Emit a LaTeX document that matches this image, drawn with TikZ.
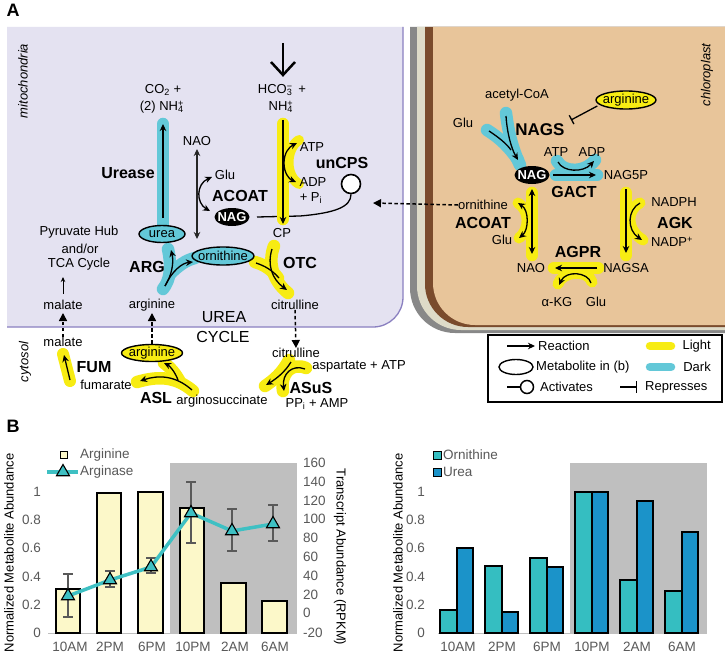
\documentclass[tikz,border=0pt]{standalone}
\usepackage{fontspec}
\setmainfont{Liberation Sans}
\usetikzlibrary{arrows.meta,shapes.geometric}
\definecolor{mitofill}{HTML}{E4E2F1}
\definecolor{mitoline}{HTML}{8A80C0}
\definecolor{chlfill}{HTML}{E8C59A}
\definecolor{chlbrown}{HTML}{7A4B2C}
\definecolor{chlbeige}{HTML}{DEDBC8}
\definecolor{chlgray}{HTML}{888888}
\definecolor{hly}{HTML}{F7EC13}
\definecolor{hlc}{HTML}{63C8D8}
\definecolor{tickgray}{HTML}{595959}
\definecolor{darkperiod}{HTML}{BFBFBF}
\definecolor{argbar}{HTML}{FCF8C9}
\definecolor{ornbar}{HTML}{35BEC1}
\definecolor{ureabar}{HTML}{1B93C9}
\definecolor{argline}{HTML}{3EC0C3}
\newcommand\subsup[2]{\rlap{\textsubscript{#1}}\textsuperscript{#2}}
\newcommand\fsmall{\fontsize{13}{15}\selectfont}
\newcommand\fenz{\fontsize{16}{18}\selectfont\bfseries}
\newcommand\fticks{\fontsize{13.5}{15}\selectfont}
\begin{document}
\begin{tikzpicture}[x=1pt,y=-1pt,
  lbl/.style={font=\fsmall, inner sep=0pt},
  enz/.style={font=\fenz, inner sep=0pt},
  hlY/.style={draw=hly, line width=12.5pt, line cap=round, line join=round},
  hlC/.style={draw=hlc, line width=12.5pt, line cap=round, line join=round},
  rxn/.style={draw=black, line width=1.3pt, -{Stealth[length=7pt,width=6.5pt]}},
  rxnb/.style={draw=black, line width=1.3pt, {Stealth[length=7pt,width=6.5pt]}-{Stealth[length=7pt,width=6.5pt]}},
  plainln/.style={draw=black, line width=1.3pt},
  dsh/.style={draw=black, line width=1.5pt, dash pattern=on 3.5pt off 2.5pt, -{Triangle[length=8pt,width=8pt]}},
  metC/.style={ellipse, draw=black, line width=1.4pt, fill=hlc, inner sep=0pt},
  metY/.style={ellipse, draw=black, line width=1.4pt, fill=hly, inner sep=0pt},
  nagE/.style={ellipse, fill=black, inner sep=0pt, minimum width=35pt, minimum height=18pt},
  nagT/.style={text=white, inner sep=0pt, font=\fontsize{13}{15}\selectfont\bfseries},
  ticklbl/.style={font=\fticks, text=tickgray, inner sep=0pt},
  axt/.style={font=\fontsize{13}{15}\selectfont, inner sep=0pt},
  ebar/.style={draw=tickgray, line width=1.2pt},
  tri/.style={regular polygon, regular polygon sides=3, draw=black, line width=1.1pt, fill=argline, minimum size=15pt, inner sep=0pt},
  barln/.style={draw=black, line width=1.2pt},
]
\useasboundingbox (0,0) rectangle (725,658);
\fill[white] (0,0) rectangle (725,658);

% ---------- panel letters
\node[font=\fontsize{18}{20}\selectfont\bfseries, inner sep=0pt] (pA) at (13,10) {A};
\node[font=\fontsize{18}{20}\selectfont\bfseries, inner sep=0pt] (pB) at (13,426) {B};

% ---------- compartments
\fill[mitofill] (7,27) -- (403,27) -- (403,297) .. controls (403,313.6) and (389.6,327) .. (373,327) -- (7,327) -- cycle;
\draw[mitoline, line width=1.3pt] (403,27) -- (403,297) .. controls (403,313.6) and (389.6,327) .. (373,327) -- (7,327);

\fill[chlgray] (410,27) -- (410,288) .. controls (410,313) and (430,333) .. (455,333) -- (725,333) -- (725,27) -- cycle;
\fill[chlbeige] (417,27) -- (417,286) .. controls (417,310.3) and (436.7,330) .. (461,330) -- (725,330) -- (725,27) -- cycle;
\fill[chlbrown] (425,27) -- (425,284) .. controls (425,307.7) and (444.3,327) .. (468,327) -- (725,327) -- (725,27) -- cycle;
\fill[chlfill] (433,27) -- (433,283) .. controls (433,306.2) and (451.8,325) .. (475,325) -- (725,325) -- (725,27) -- cycle;

\node[lbl, font=\fsmall\itshape, rotate=90] (mito) at (23,81) {mitochondria};
\node[lbl, font=\fsmall\itshape, rotate=90] (cyto) at (25,362) {cytosol};
\node[lbl, font=\fsmall\itshape, rotate=90] (chlo) at (707,75) {chloroplast};

% ---------- activation line (behind highlight)
\coordinate (actl0) at (257,217);
\node[circle, draw=black, line width=1.6pt, fill=white, minimum size=19pt, inner sep=0pt] (act) at (351,184) {};
\draw[plainln] (actl0) -- (300,216) .. controls (335,213) and (351,207) .. (act.south);

% ---------- highlights (cyan)
\draw[hlC] (163,124) -- (163,226);
\draw[hlC] (163,289) .. controls (170,280) and (172,268) .. (168,249);
\draw[hlC] (170,274) .. controls (178,266) and (186,260) .. (195,258);
\draw[hlC] (506,113) .. controls (508,130) and (512,148) .. (520,165);
\draw[hlC] (487,130) .. controls (500,138) and (510,148) .. (518,160);
\draw[hlC] (556,175) -- (597,175);
\draw[hlC] (557,161) .. controls (563,173) and (585,173) .. (595,160);

% ---------- highlights (yellow)
\draw[hlY] (283,124) -- (283,219);
\draw[hlY, line width=10pt] (299,140) .. controls (285,149) and (285,176) .. (299,184);
\draw[hlY] (274,246) .. controls (268,262) and (272,280) .. (288,293);
\draw[hlY] (255,262) .. controls (265,265) and (272,270) .. (278,278);
\draw[hlY, line width=12pt] (63,354) -- (70,381);
\draw[hlY] (193,391) .. controls (175,376) and (158,376) .. (137,382);
\draw[hlY] (180,382) .. controls (176,374) and (170,367) .. (164,363);
\draw[hlY] (289,360) .. controls (283,372) and (274,380) .. (265,386);
\draw[hlY] (306,368) .. controls (292,362) and (280,373) .. (283,391);
\draw[hlY] (532,193) -- (532,255);
\draw[hlY, line width=11pt] (518,203) .. controls (530,210) and (530,230) .. (519,238);
\draw[hlY] (626,193) -- (626,255);
\draw[hlY, line width=11pt] (640,203) .. controls (626,210) and (626,230) .. (643,240);
\draw[hlY] (554,268) -- (598,268);
\draw[hlY, line width=11pt] (558,284) .. controls (562,271) and (588,269) .. (592,282);

% ---------- mitochondria nodes
\node[lbl] (co2) at (163,90) {CO\textsubscript{2} +};
\node[lbl] (nh4a) at (163,107) {(2) NH\subsup{4}{+}\,};
\node[lbl] (hco) at (282,90) {HCO\subsup{3}{−}\, +};
\node[lbl] (nh4b) at (282,107) {NH\subsup{4}{+}\,};
\node[lbl] (naom) at (197,141) {NAO};
\node[enz] (urease) at (128,173) {Urease};
\node[lbl] (glum) at (225,175) {Glu};
\node[enz] (acoatm) at (240,196) {ACOAT};
\node[nagE] (nagm) at (232,217) {};
\node[nagT] (nagmt) at (nagm) {NAG};
\node[enz] (uncps) at (342,163) {unCPS};
\node[lbl] (atpm) at (312,147) {ATP};
\node[lbl] (adpm) at (313,182) {ADP};
\node[lbl] (pim) at (311,198) {+ P\textsubscript{i}};
\node[lbl] (cp) at (282,233) {CP};
\node[metC, minimum width=46pt, minimum height=17pt] (urea) at (162,234) {};
\node[lbl] (ureat) at (urea) {urea};
\node[metC, minimum width=62pt, minimum height=18pt] (ornm) at (223,256) {};
\node[lbl] (ornmt) at (ornm) {ornithine};
\node[enz] (arg) at (147,267) {ARG};
\node[enz] (otc) at (300,263) {OTC};
\node[lbl] (argm) at (152,305) {arginine};
\node[lbl] (citm) at (295,305) {citrulline};
\node[lbl] (malm) at (63,305) {malate};
\node[lbl] (pyr1) at (79,232) {Pyruvate Hub};
\node[lbl] (pyr2) at (80,249) {and/or};
\node[lbl] (pyr3) at (79,264) {TCA Cycle};
\node[font=\fontsize{16}{18}\selectfont, inner sep=0pt] (urea1) at (224,317) {UREA};
\node[font=\fontsize{16}{18}\selectfont, inner sep=0pt] (urea2) at (223,337) {CYCLE};

% mitochondria arrows
\coordinate (hcoin) at (283,43);
\draw[line width=2.5pt] (hcoin) -- (283,74);
\draw[line width=2.5pt, line join=miter] (271,62) -- (283,75) -- (295,62);
\draw[rxn] (163,218) -- (163,124);
\draw[draw=black!85, line width=1.1pt, {Stealth[length=7pt,width=6.5pt]}-{Stealth[length=7pt,width=6.5pt]}] (197,149) -- (197,239);
\draw[rxnb] (212,177) .. controls (196,184) and (196,203) .. (210,211);
\draw[rxn] (283,120) -- (283,224);
\draw[rxn] (284,163) .. controls (284,153) and (289,147) .. (297,143);
\draw[rxn] (284,163) .. controls (284,173) and (289,179) .. (296,182);
\draw[rxn] (165,286) .. controls (172,275) and (174,262) .. (171,250);
\draw[rxn] (165,286) .. controls (172,271) and (182,263) .. (193,262);
\draw[rxn] (272,249) .. controls (267,265) and (272,279) .. (287,290);
\draw[plainln] (256,263) .. controls (265,266) and (272,270) .. (279,278);
\draw[line width=0.9pt, -{Stealth[length=5pt,width=4.5pt]}] (63,294) -- (63,277);

% ---------- cytosol
\node[lbl] (malc) at (63,342) {malate};
\node[enz] (fum) at (94,367) {FUM};
\node[lbl] (fumar) at (106,385) {fumarate};
\node[metY, minimum width=61pt, minimum height=17pt] (argc) at (152,353) {};
\node[lbl] (argct) at (argc) {arginine};
\node[enz] (asl) at (156,398) {ASL};
\node[lbl] (argsuc) at (222,401) {arginosuccinate};
\node[lbl] (citc) at (296,353) {citrulline};
\node[lbl] (asp) at (359,366) {aspartate + ATP};
\node[enz] (asus) at (311,388) {ASuS};
\node[lbl] (ppi) at (317,404) {PP\textsubscript{i} + AMP};

\draw[rxn] (70,380) -- (64,355);
\draw[rxn] (192,390) .. controls (175,375) and (158,375) .. (140,381);
\draw[rxn] (178,380) .. controls (175,372) and (170,366) .. (164,363);
\draw[rxn] (291,362) .. controls (285,372) and (276,379) .. (266,385);
\draw[rxn] (305,369) .. controls (292,364) and (282,374) .. (284,391);

\draw[dsh] (malc.north) -- (63,313);
\draw[dsh] (argc.north) -- (152,313);
\draw[dsh] (citm.south) -- (citc.north);

% ---------- chloroplast
\node[lbl] (acoa) at (517,95) {acetyl-CoA};
\node[lbl] (gluc1) at (463,123) {Glu};
\node[metY, minimum width=60pt, minimum height=18pt] (argch) at (626,100) {};
\node[lbl] (argcht) at (argch) {arginine};
\node[enz, font=\fontsize{17}{19}\selectfont\bfseries] (nags) at (540,130) {NAGS};
\node[nagE] (nagc) at (532,175) {};
\node[nagT] (nagct) at (nagc) {NAG};
\node[lbl] (atpc) at (556,152) {ATP};
\node[lbl] (adpc) at (592,152) {ADP};
\node[lbl] (nag5p) at (626,175) {NAG5P};
\node[enz] (gact) at (574,192) {GACT};
\node[lbl] (ornc) at (483,205) {ornithine};
\node[enz] (acoatc) at (483,223) {ACOAT};
\node[lbl] (gluc2) at (502,240) {Glu};
\node[lbl] (naoc) at (531,268) {NAO};
\node[enz] (agpr) at (578,252) {AGPR};
\node[lbl] (nagsa) at (626,268) {NAGSA};
\node[lbl] (akg) at (557,302) {α-KG};
\node[lbl] (gluc3) at (596,302) {Glu};
\node[lbl] (nadph) at (674,202) {NADPH};
\node[enz] (agk) at (675,223) {AGK};
\node[lbl] (nadp) at (672,242) {NADP\textsuperscript{+}};

\draw[line width=1.3pt, -{Bar[width=10pt]}] (argch.west) ++(2,6) -- (571,120);
\draw[rxn] (506,116) .. controls (507,132) and (511,148) .. (518,160);
\draw[plainln] (489,131) .. controls (498,137) and (506,143) .. (511,150);
\draw[rxn] (553,175) -- (596,175);
\draw[rxn] (558,162) .. controls (563,172) and (583,173) .. (594,161);
\draw[rxnb] (532,189) -- (532,254);
\draw[rxnb] (518,203) .. controls (529,210) and (529,230) .. (519,238);
\draw[rxn] (626,189) -- (626,253);
\draw[rxn] (640,203) .. controls (627,210) and (627,230) .. (642,240);
\draw[rxn] (597,268) -- (555,268);
\draw[rxn] (591,283) .. controls (588,272) and (566,270) .. (559,285);

\draw[dsh] (ornc.west) -- (373,203);

% ---------- legend
\draw[line width=1.5pt] (488,335) rectangle (722,402);
\coordinate (lgr0) at (507,346);
\coordinate (lgr1) at (535,346);
\draw[rxn] (lgr0) -- (lgr1);
\node[lbl, anchor=west] (lgrt) at (538,346) {Reaction};
\draw[draw=hly, line width=8.5pt, line cap=round] (650,346) -- (671,346);
\node[lbl, anchor=east] (lglt) at (711,346) {Light};
\node[ellipse, draw=black, line width=1.4pt, minimum width=34pt, minimum height=15pt, inner sep=0pt] (lgme) at (516,367) {};
\node[lbl, anchor=west] (lgmt) at (536,367) {Metabolite in (b)};
\draw[draw=hlc, line width=8.5pt, line cap=round] (650,367) -- (671,367);
\node[lbl, anchor=east] (lgdt) at (711,367) {Dark};
\node[circle, draw=black, line width=1.5pt, minimum size=13pt, inner sep=0pt] (lgac) at (527,387) {};
\coordinate (lga0) at (507,387);
\draw[plainln] (lga0) -- (lgac.west);
\node[lbl, anchor=west] (lgat) at (540,387) {Activates};
\coordinate (lgp0) at (620,387);
\coordinate (lgp1) at (637,387);
\draw[line width=1.3pt, -{Bar[width=12pt]}] (lgp0) -- (lgp1);
\node[lbl, anchor=west] (lgpt) at (645,387) {Represses};

% ---------- chart 1
\fill[darkperiod] (170,463) rectangle (297,633);
\draw[black!25, line width=1pt] (48,633) -- (297,633);
\draw[barln, fill=argbar] (56,633) rectangle (80,589);
\draw[barln, fill=argbar] (97,633) rectangle (121,493);
\draw[barln, fill=argbar] (138,633) rectangle (163,492);
\draw[barln, fill=argbar] (180,633) rectangle (204,508);
\draw[barln, fill=argbar] (221,633) rectangle (246,583);
\draw[barln, fill=argbar] (262,633) rectangle (287,601);
\foreach \x/\a/\b in {68/574/617, 110/571/587, 151/558/573, 191/482/543, 232/509/551, 273/505/541}{
  \draw[ebar] (\x,\a) -- (\x,\b);
  \draw[ebar] (\x-5,\a) -- (\x+5,\a);
  \draw[ebar] (\x-5,\b) -- (\x+5,\b);
}
\draw[argline, line width=3.5pt, line join=round] (68,596) -- (110,580) -- (151,567) -- (191,513) -- (232,531) -- (273,524);
\foreach \x/\y [count=\i] in {68/596, 110/580, 151/567, 191/513, 232/531, 273/524}{
  \node[tri] (m\i) at (\x,\y) {};
}
\foreach \v/\y in {0/633, 0.2/605, 0.4/577, 0.6/548, 0.8/520, 1/492}{
  \node[ticklbl, anchor=east] at (41,\y) {\v};
}
\foreach \v/\y in {160/463, 140/482, 120/501, 100/519, 80/538, 60/557, 40/576, 20/595, 0/613, -20/633}{
  \node[ticklbl, anchor=west] at (303,\y) {\v};
}
\foreach \t/\x in {10AM/70, 2PM/110, 6PM/152, 10PM/193, 2AM/235, 6AM/275}{
  \node[ticklbl] at (\x,647) {\t};
}
\node[draw=black, fill=argbar, line width=0.8pt, minimum size=7pt, inner sep=0pt] (lgA) at (64,455) {};
\node[ticklbl, anchor=west] (lgAt) at (80,455) {Arginine};
\draw[argline, line width=3.5pt] (47,472) -- (78,472);
\node[tri] (lgB) at (63,472) {};
\node[ticklbl, anchor=west] (lgBt) at (80,472) {Arginase};
\node[axt, rotate=90] (yl1) at (9,553) {Normalized Metabolite Abundance};
\node[axt, rotate=-90] (yr1) at (340,557) {Transcript Abundance (RPKM)};

% ---------- chart 2
\fill[darkperiod] (570,463) rectangle (707,633);
\draw[black!25, line width=1pt] (438,633) -- (707,633);
\foreach \a/\h/\u in {440/610/548, 485/566/612, 530/558/567, 575/492/492, 620/580/501, 665/591/532}{
  \draw[barln, fill=ornbar] (\a,633) rectangle (\a+17,\h);
  \draw[barln, fill=ureabar] (\a+17,633) rectangle (\a+33,\u);
}
\foreach \v/\y in {0/633, 0.2/605, 0.4/577, 0.6/548, 0.8/520, 1/492}{
  \node[ticklbl, anchor=east] at (425,\y) {\v};
}
\foreach \t/\x in {10AM/458, 2PM/502, 6PM/547, 10PM/592, 2AM/637, 6AM/682}{
  \node[ticklbl] at (\x,647) {\t};
}
\node[draw=black, fill=ornbar, line width=0.8pt, minimum size=8pt, inner sep=0pt] (lgO) at (437,455) {};
\node[ticklbl, anchor=west] (lgOt) at (443,455) {Ornithine};
\node[draw=black, fill=ureabar, line width=0.8pt, minimum size=8pt, inner sep=0pt] (lgU) at (437,472) {};
\node[ticklbl, anchor=west] (lgUt) at (443,472) {Urea};
\node[axt, rotate=90] (yl2) at (398,553) {Normalized Metabolite Abundance};
\end{tikzpicture}
\end{document}
